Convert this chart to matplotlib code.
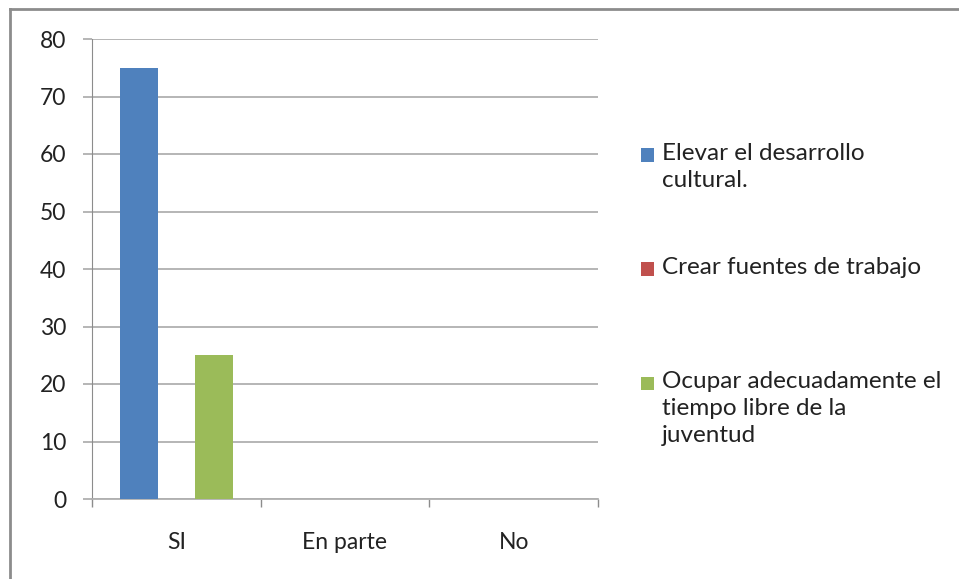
import numpy as np
import matplotlib
matplotlib.use("Agg")
import matplotlib.pyplot as plt
from matplotlib.lines import Line2D

plt.rcParams['font.family'] = ['Lato', 'DejaVu Sans']

# data
categories = ["SI", "En parte", "No"]
series_names = ["Elevar el desarrollo\ncultural.",
                "Crear fuentes de trabajo\n",
                "Ocupar adecuadamente el\ntiempo libre de la\njuventud"]
elevar = [75, 0, 0]
crear = [0, 0, 0]
ocupar = [25, 0, 0]
colors = ["#4F81BD", "#C0504D", "#9BBB59"]

W, H = 959, 579
fig = plt.figure(figsize=(W / 100, H / 100), dpi=100)
ax = fig.add_axes([92 / W, 1 - 499 / H, (598 - 92) / W, (499 - 39) / H])

x = np.arange(len(categories))
bw = 1 / 4.5  # excel gap width 150%
for i, (vals, name, c) in enumerate(zip([elevar, crear, ocupar], series_names, colors)):
    ax.bar(x + (i - 1) * bw, vals, bw, color=c, label=name, zorder=3)

ax.set_xlim(-0.5, 2.5)
ax.set_ylim(0, 80)
ax.set_yticks(range(0, 81, 10))
ax.set_xticks(x)
ax.set_xticklabels(categories)
ax.set_xticks([-0.5, 0.5, 1.5, 2.5], minor=True)

ax.grid(axis='y', color='#B0B0B0', linewidth=1.3, zorder=0)
for s in ['top', 'right']:
    ax.spines[s].set_visible(False)
ax.spines['left'].set_color('#8C8C8C')
ax.spines['bottom'].set_color('#B0B0B0')
ax.spines['bottom'].set_linewidth(1.3)
ax.tick_params(axis='y', length=6.5, color='#B0B0B0', width=1.3, pad=12,
               labelsize=16.5, labelcolor='#222222')
ax.tick_params(axis='x', which='major', length=0, pad=24,
               labelsize=16.5, labelcolor='#222222')
ax.tick_params(axis='x', which='minor', length=6, color='#8C8C8C', width=1)

leg = ax.legend(loc='upper left', bbox_to_anchor=(641 / W, 1 - 143 / H),
                bbox_transform=fig.transFigure, frameon=False, fontsize=17.5,
                borderpad=0, borderaxespad=0, handlelength=0.55, handleheight=0.5,
                handletextpad=0.3, labelspacing=2.72)
for t in leg.get_texts():
    t.set_color('#222222')
    t.set_linespacing(1.35)

# put the legend squares beside the first line, like Excel does
fig.canvas.draw()
r = fig.canvas.get_renderer()
for t, h in zip(leg.get_texts(), leg.legend_handles):
    n = t.get_text().count('\n') + 1
    hh = t.get_window_extent(r).height
    shift = (hh - hh / n) / 2 * 72 / fig.dpi
    h.set_y(h.get_y() + shift)

# chart border (top and left edges visible)
fig.add_artist(Line2D([10 / W, 1], [1 - 9 / H, 1 - 9 / H], transform=fig.transFigure,
                      color='#8C8C8C', linewidth=2))
fig.add_artist(Line2D([10 / W, 10 / W], [0, 1 - 9 / H], transform=fig.transFigure,
                      color='#8C8C8C', linewidth=2))

fig.savefig('out.png', dpi=100)
